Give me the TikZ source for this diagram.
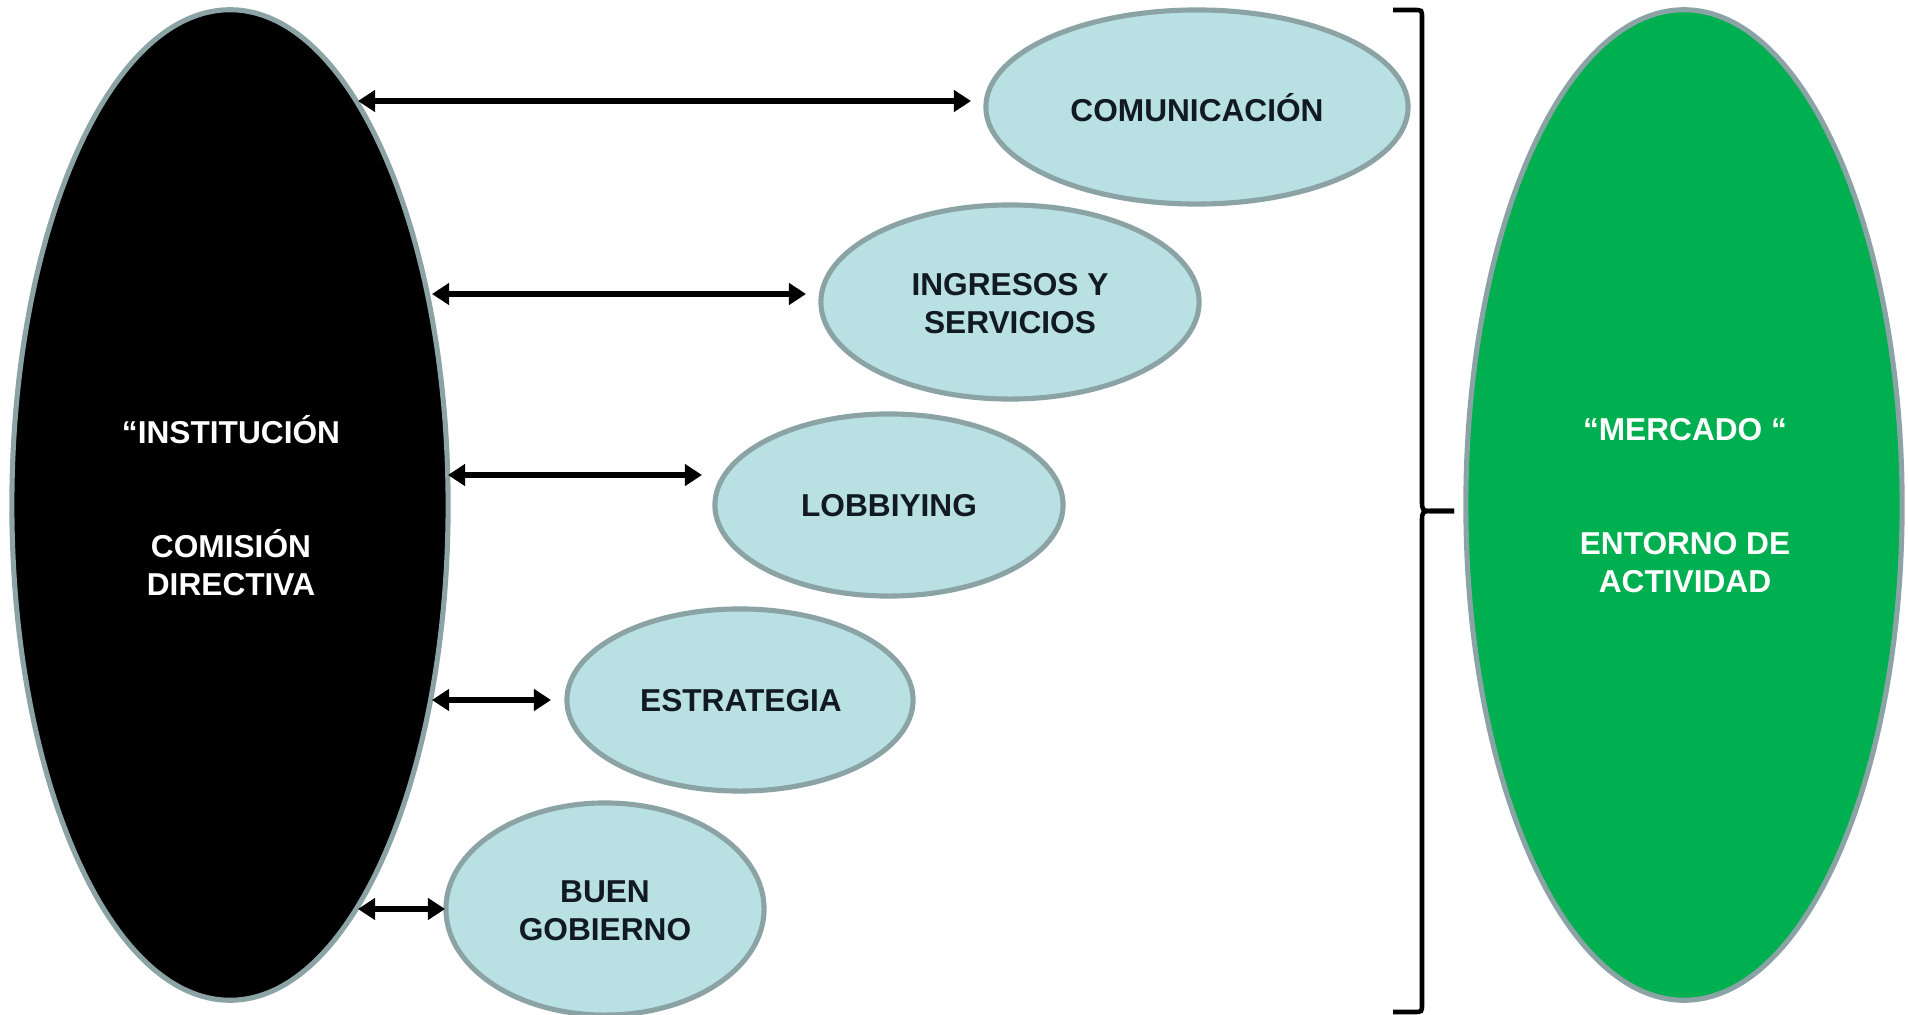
\documentclass[tikz,border=0pt]{standalone}
\usepackage{fontspec}
\setmainfont{Liberation Sans}
\usetikzlibrary{arrows.meta,shapes.geometric}
\definecolor{rim}{HTML}{8BA3A5}
\definecolor{pale}{HTML}{B9E0E3}
\definecolor{grn}{HTML}{00AF50}
\definecolor{ink}{HTML}{111A22}
\begin{document}
\begin{tikzpicture}[x=0.01cm,y=-0.01cm,
  bigell/.style={ellipse, draw=rim, line width=1.45pt, inner sep=0pt, text=white,
    font=\bfseries\fontsize{9}{10.8}\selectfont, align=center},
  smallell/.style={ellipse, draw=rim, fill=pale, line width=1.45pt, inner sep=0pt, text=ink,
    font=\bfseries\fontsize{9}{10.8}\selectfont, align=center},
  arr/.style={line width=1.6pt, {Triangle[length=0.17cm,width=0.21cm]}-{Triangle[length=0.17cm,width=0.21cm]}},
  bracestyle/.style={line width=1.3pt}
]
\useasboundingbox (0,0) rectangle (1908,1015);
\node[bigell, fill=black, minimum width=4.36cm, minimum height=9.9cm] (inst) at (230,505) {};
\node[text=white, font=\bfseries\fontsize{9}{10.8}\selectfont, align=center] (instt) at (231,506) {“INSTITUCIÓN\\[10.8pt]\\COMISIÓN\\DIRECTIVA};
\node[bigell, fill=grn, minimum width=4.36cm, minimum height=9.9cm] (merc) at (1684,505) {};
\node[text=white, font=\bfseries\fontsize{9}{10.8}\selectfont, align=center] (merct) at (1685,506) {“MERCADO “\\[10.8pt]\\ENTORNO DE\\ACTIVIDAD};

\node[smallell, minimum width=4.22cm, minimum height=1.94cm] (com) at (1197,107) {};
\node[text=ink, font=\bfseries\fontsize{9}{10.8}\selectfont] (comt) at (1197,108) {COMUNICACIÓN};
\node[smallell, minimum width=3.78cm, minimum height=1.94cm] (ing) at (1010,302) {};
\node[text=ink, font=\bfseries\fontsize{9}{10.8}\selectfont, align=center] (ingt) at (1010,304) {INGRESOS Y\\SERVICIOS};
\node[smallell, minimum width=3.48cm, minimum height=1.82cm] (lob) at (889,505) {};
\node[text=ink, font=\bfseries\fontsize{9}{10.8}\selectfont] (lobt) at (889,506) {LOBBIYING};
\node[smallell, minimum width=3.46cm, minimum height=1.82cm] (est) at (740,700) {};
\node[text=ink, font=\bfseries\fontsize{9}{10.8}\selectfont] (estt) at (741,701) {ESTRATEGIA};
\node[smallell, minimum width=3.18cm, minimum height=2.12cm] (bue) at (605,909) {};
\node[text=ink, font=\bfseries\fontsize{9}{10.8}\selectfont, align=center] (buet) at (605,911) {BUEN\\GOBIERNO};

\coordinate (a1l) at (358,101); \coordinate (a1r) at (971,101);
\coordinate (a2l) at (432,294); \coordinate (a2r) at (806,294);
\coordinate (a3l) at (448,475); \coordinate (a3r) at (702,475);
\coordinate (a4l) at (432,700); \coordinate (a4r) at (551,700);
\coordinate (a5l) at (358,909); \coordinate (a5r) at (445,909);
\draw[arr] (a1l) -- (a1r);
\draw[arr] (a2l) -- (a2r);
\draw[arr] (a3l) -- (a3r);
\draw[arr] (a4l) -- (a4r);
\draw[arr] (a5l) -- (a5r);

\coordinate (bt) at (1393,10);
\coordinate (bm) at (1454,511);
\coordinate (bb) at (1393,1012);
\draw[bracestyle] (bt) -- (1414,10) .. controls (1422,10) .. (1422,18) -- (1422,500)
  .. controls (1422,511) .. (1434,511) -- (bm);
\draw[bracestyle] (bm) -- (1434,511) .. controls (1422,511) .. (1422,522) -- (1422,1004)
  .. controls (1422,1012) .. (1414,1012) -- (bb);
\end{tikzpicture}
\end{document}
